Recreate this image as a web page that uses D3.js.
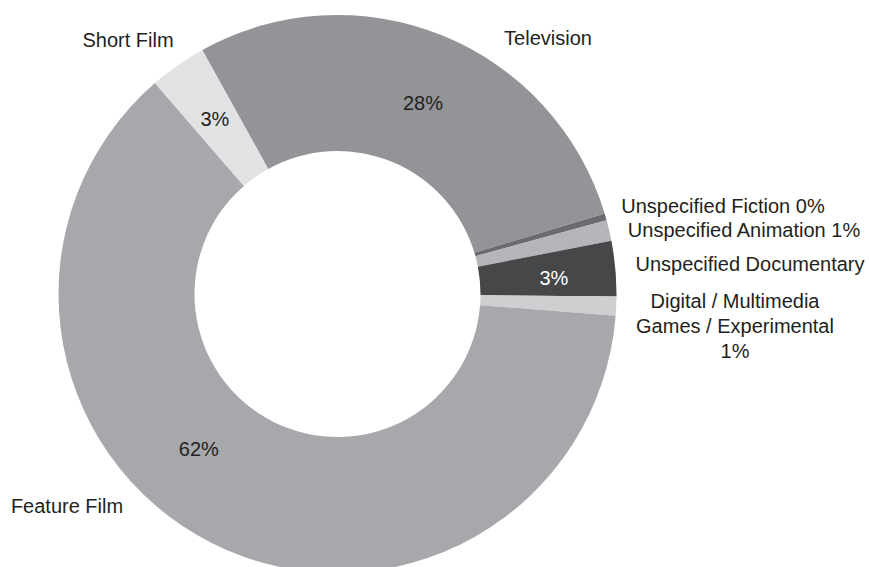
<!DOCTYPE html>
<html>
<head>
<meta charset="utf-8">
<script src="https://cdn.jsdelivr.net/npm/d3@7/dist/d3.min.js"></script>
<style>
  html, body { margin: 0; padding: 0; background: #ffffff; }
  svg { display: block; }
  text { font-family: "Liberation Sans", Arial, Helvetica, sans-serif; font-size: 20px; fill: #231f20; }
</style>
</head>
<body>
<svg id="chart" width="869" height="567"></svg>
<script>
// Share of productions by category (percent)
const categories = [
  "Television",
  "Unspecified Fiction",
  "Unspecified Animation",
  "Unspecified Documentary",
  "Digital / Multimedia Games / Experimental",
  "Feature Film",
  "Short Film"
];
const shares = [28.4, 0.4, 1.2, 3.2, 1.1, 62.4, 3.3];
const sliceColors = ["#939497", "#6b6c6f", "#b4b5b8", "#464749", "#cecfd1", "#a7a8ab", "#e1e2e4"];

// Label text drawn outside the ring (one or more lines each)
const outerLabels = [
  ["Television"],
  ["Unspecified Fiction 0%"],
  ["Unspecified Animation 1%"],
  ["Unspecified Documentary"],
  ["Digital / Multimedia", "Games / Experimental", "1%"],
  ["Feature Film"],
  ["Short Film"]
];
// Which slices carry a percentage inside the ring
const showInside = [true, false, false, true, false, true, true];

const svg = d3.select("#chart");
const cx = 337.5, cy = 294;
const outerR = 279, innerR = 143;

const startDeg = -29;
const pie = d3.pie()
  .sort(null)
  .value(d => d)
  .startAngle(startDeg * Math.PI / 180)
  .endAngle((startDeg + 360) * Math.PI / 180);

const arcs = pie(shares);
const arc = d3.arc().innerRadius(innerR).outerRadius(outerR);

const g = svg.append("g").attr("transform", `translate(${cx},${cy})`);

g.selectAll("path.slice")
  .data(arcs)
  .join("path")
  .attr("class", "slice")
  .attr("d", arc)
  .attr("fill", (d, i) => sliceColors[i]);

// Percentage labels inside the ring, near the slice middle angle
// (small per-slice nudges in angle and radius)
const deg = Math.PI / 180;
const insideAngleShift = [2 * deg, 0, 0, 1 * deg, 0, 15 * deg, 0];
const insideRadius = [209, 0, 0, 217, 0, 208, 214];
const pct = d3.format(".0f");

g.selectAll("text.pct")
  .data(arcs.filter((d, i) => showInside[i]))
  .join("text")
  .attr("class", "pct")
  .attr("text-anchor", "middle")
  .attr("dy", "0.36em")
  .attr("transform", d => {
    const a = (d.startAngle + d.endAngle) / 2 + insideAngleShift[d.index];
    const r = insideRadius[d.index];
    return `translate(${r * Math.sin(a)},${-r * Math.cos(a)})`;
  })
  .style("fill", d => d.index === 3 ? "#ffffff" : "#231f20")
  .text(d => pct(d.data) + "%");

// Outside label anchors (page coordinates, centre of first baseline)
const outerAnchors = [
  [548, 45],
  [723, 213],
  [744, 237],
  [750, 271],
  [735, 308],
  [67, 513],
  [128, 47]
];
const lineGap = 25;

outerLabels.forEach((lines, i) => {
  const t = svg.append("text")
    .attr("class", "outer")
    .attr("text-anchor", "middle")
    .attr("x", outerAnchors[i][0])
    .attr("y", outerAnchors[i][1]);
  lines.forEach((ln, k) => {
    t.append("tspan")
      .attr("x", outerAnchors[i][0])
      .attr("y", outerAnchors[i][1] + k * lineGap)
      .text(ln);
  });
});
</script>
</body>
</html>
